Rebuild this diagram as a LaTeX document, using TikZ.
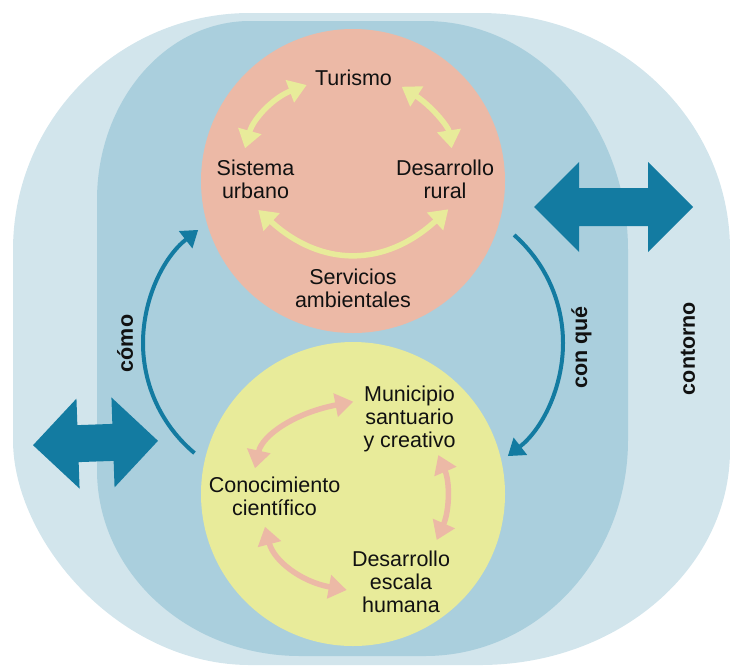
\documentclass[tikz,border=0pt]{standalone}
\usepackage{fontspec}
\setmainfont{Liberation Sans}
\usetikzlibrary{arrows.meta}

\definecolor{outerblue}{HTML}{D2E5EC}
\definecolor{innerblue}{HTML}{AACFDD}
\definecolor{pinkfill}{HTML}{ECB9A6}
\definecolor{yellowfill}{HTML}{E8EB9A}
\definecolor{deepteal}{HTML}{137BA1}
\definecolor{txt}{HTML}{111111}

\tikzset{
  lbl/.style={font=\fontsize{21.5}{21.5}\selectfont, align=center, inner sep=0pt, text=txt},
  side/.style={font=\fontsize{21.5}{21.5}\selectfont\bfseries, inner sep=0pt, rotate=90, text=txt},
  cyc/.style={line width=5.5pt, {Triangle[length=18pt,width=23pt]}-{Triangle[length=18pt,width=23pt]}},
  flow/.style={draw=deepteal, line width=4pt, -{Triangle[length=16pt,width=21pt]}},
  bigarrow/.style={fill=deepteal},
  disc/.style={circle, minimum size=304pt, inner sep=0pt}
}

\begin{document}
\begin{tikzpicture}[x=1pt,y=-1pt]
\useasboundingbox (0,0) rectangle (730,665);
\clip (0,0) rectangle (730,665);

% outer band: contorno
\fill[outerblue] (13,250) .. controls (13,119.1) and (119.1,13) .. (250,13)
  -- (480,13) .. controls (618.1,13) and (730,119.1) .. (730,250)
  -- (730,450) .. controls (730,568.7) and (618.1,665) .. (480,665)
  -- (250,665) .. controls (119.1,665) and (13,540.7) .. (13,440) -- cycle;

% inner band
\fill[innerblue] (97,200) .. controls (97,101.1) and (165.5,21) .. (250,21)
  -- (425,21) .. controls (537.1,21) and (628,123.5) .. (628,250)
  -- (628,440) .. controls (628,559.3) and (537.1,656) .. (425,656)
  -- (300,656) .. controls (187.9,656) and (97,572.7) .. (97,470) -- cycle;

% the two discs
\node[disc, fill=pinkfill] (pink) at (353,181) {};
\node[disc, fill=yellowfill] (yellow) at (353,494) {};

% exchange arrows with the surroundings
\fill[bigarrow] (534,207) -- (579,162) -- (579,188) -- (648,188) -- (648,162)
  -- (693,207) -- (648,252) -- (648,226) -- (579,226) -- (579,252) -- cycle;
\begin{scope}[rotate around={2:(95.5,443)}]
\fill[bigarrow] (33,443) -- (78,398) -- (78,424.5) -- (113,424.5) -- (113,398)
  -- (158,443) -- (113,488) -- (113,461.5) -- (78,461.5) -- (78,488) -- cycle;
\end{scope}

% flows between the discs
\coordinate (comoS) at (194.5,453.1);
\coordinate (comoE) at (198.2,229.9);
\coordinate (comoM) at (143,343);
\draw[flow] (comoS) .. controls (161.9,425.8) and (143,385.5) .. (comoM)
  .. controls (143,298.8) and (163.4,257.1) .. (comoE);
\coordinate (conqS) at (514.1,235.0);
\coordinate (conqE) at (507.8,456.1);
\coordinate (conqM) at (563,343);
\draw[flow] (conqS) .. controls (545.1,262.3) and (563,301.6) .. (conqM)
  .. controls (563,387.2) and (542.6,428.9) .. (conqE);

% labels
\node[lbl] (turismo) at (353.5,81.4) {\strut Turismo};
\node[lbl] (sistema) at (255.5,182) {\strut Sistema\\\strut urbano};
\node[lbl] (rural) at (445,182) {\strut Desarrollo\\\strut rural};
\node[lbl] (servicios) at (353,291.7) {\strut Servicios\\\strut ambientales};
\node[lbl] (municipio) at (409.5,419.5) {\strut Municipio\\\strut santuario\\\strut y creativo};
\node[lbl] (conocimiento) at (274.5,499.3) {\strut Conocimiento\\\strut científico};
\node[lbl] (escala) at (401,584.7) {\strut Desarrollo\\\strut escala\\\strut humana};

\node[side] (como) at (125,343.5) {cómo};
\node[side] (conque) at (581.5,347.5) {con qué};
\node[side] (contorno) at (688,348.5) {contorno};

% cycle inside the upper disc
\coordinate (a1) at (245,148.3);  \coordinate (a2) at (306.7,85);
\coordinate (b1) at (401.7,86.7); \coordinate (b2) at (451.7,148.3);
\coordinate (c1) at (258.3,210);  \coordinate (c2) at (448.3,209.3);
\draw[cyc, draw=yellowfill] (a1) .. controls (253.37,118.33) and (273.93,97.23) .. (a2);
\draw[cyc, draw=yellowfill] (b1) .. controls (431.7,106.17) and (448.37,126.7) .. (b2);
\draw[cyc, draw=yellowfill] (c1) .. controls (321.63,267.57) and (384.97,267.33) .. (c2);

% cycle inside the lower disc
\coordinate (d1) at (353.3,401.7); \coordinate (d2) at (255,468.3);
\coordinate (e1) at (438.3,455);   \coordinate (e2) at (436.7,540);
\coordinate (f1) at (265,526.7);   \coordinate (f2) at (346.7,590);
\draw[cyc, draw=pinkfill] (d1) .. controls (295,412.83) and (262.23,435.03) .. (d2);
\draw[cyc, draw=pinkfill] (e1) .. controls (450.03,482.27) and (449.5,510.6) .. (e2);
\draw[cyc, draw=pinkfill] (f1) .. controls (273.77,560.67) and (301,581.77) .. (f2);
\end{tikzpicture}
\end{document}
